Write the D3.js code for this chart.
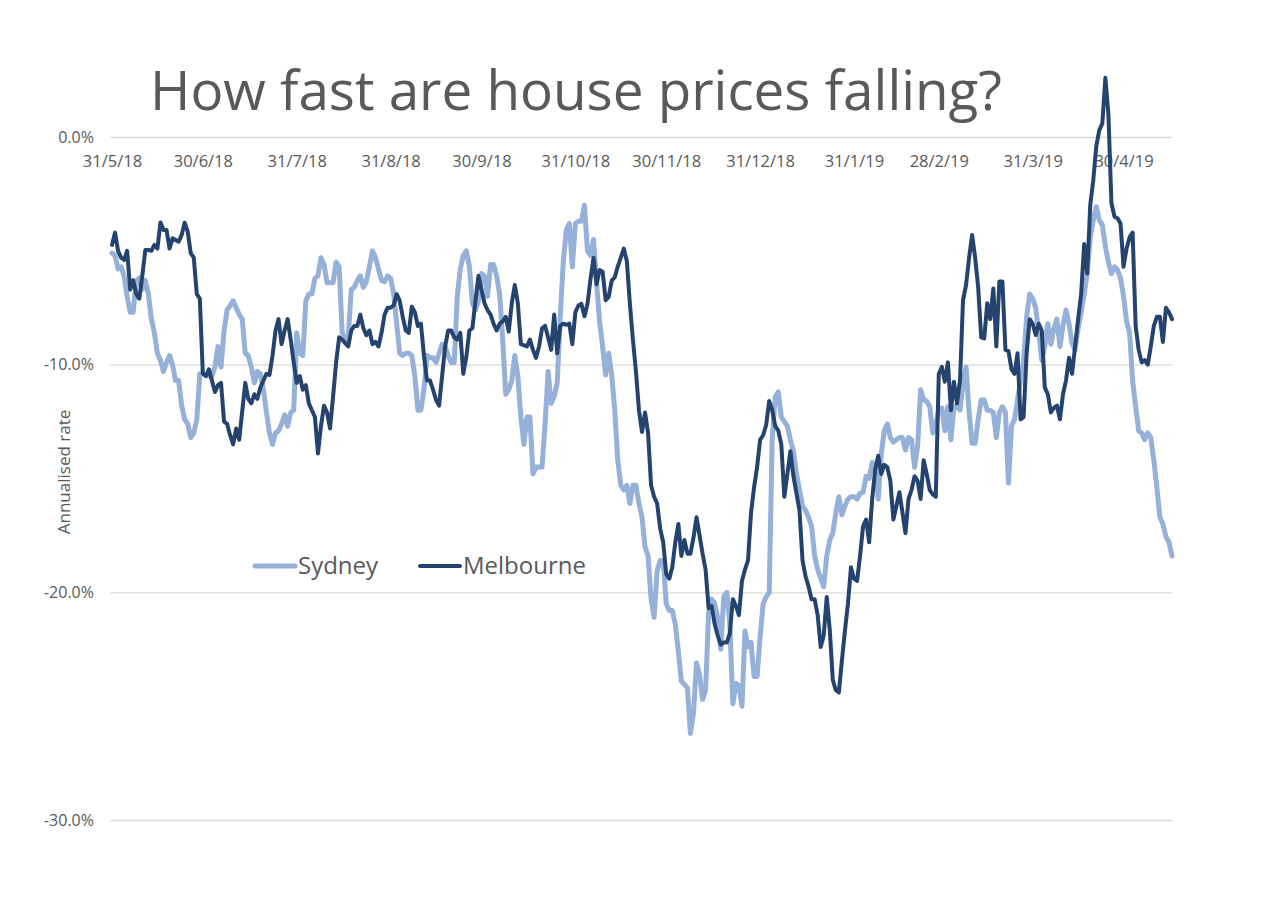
<!DOCTYPE html>
<html><head><meta charset="utf-8">
<script src="https://cdn.jsdelivr.net/npm/d3@7"></script>
<style>
html,body{margin:0;padding:0;background:#fff;}
svg{display:block;}
text{font-family:"Open Sans",sans-serif;}
</style></head><body>
<svg id="chart" width="1280" height="903"></svg>
<script>
const chartTitle = "How fast are house prices falling?";
const yAxisTitle = "Annualised rate";
const startLabel = "31/5/18";
const lastDay = 350;
const xTickLabels = ["31/5/18","30/6/18","31/7/18","31/8/18","30/9/18","31/10/18","30/11/18","31/12/18","31/1/19","28/2/19","31/3/19","30/4/19"];
const yTickValues = [0, -10, -20, -30];
const seriesNames = ["Sydney", "Melbourne"];
const seriesColors = ["#95b0d9", "#24436f"];

// [days since 31/5/18, annualised % change]
const sydney = [[0,-5.1],[1,-5.2],[2,-5.8],[3,-5.7],[4,-6.1],[5,-7.0],[6,-7.7],[7,-7.7],[8,-6.3],[9,-6.2],[10,-6.7],[11,-6.3],[12,-6.9],[13,-8.0],[14,-8.6],[15,-9.5],[16,-9.8],[17,-10.3],[18,-9.9],[19,-9.6],[20,-10.0],[21,-10.7],[22,-10.7],[23,-11.8],[24,-12.4],[25,-12.6],[26,-13.2],[27,-13.0],[28,-12.4],[29,-10.4],[30,-10.4],[32,-10.5],[33,-10.5],[34,-10.1],[35,-9.2],[36,-10.1],[37,-8.5],[38,-7.6],[40,-7.2],[41,-7.5],[42,-7.8],[43,-8.0],[44,-9.5],[45,-9.6],[46,-10.1],[47,-10.8],[48,-10.3],[49,-10.4],[50,-11.1],[51,-12.1],[52,-13.0],[53,-13.5],[54,-13.0],[55,-12.9],[56,-12.6],[57,-12.2],[58,-12.7],[59,-12.1],[60,-12.0],[61,-8.6],[62,-9.5],[63,-9.6],[64,-7.2],[65,-6.9],[66,-6.9],[67,-6.2],[68,-6.1],[69,-5.3],[70,-5.6],[71,-6.4],[72,-6.4],[73,-6.4],[74,-5.5],[75,-5.7],[76,-8.6],[77,-8.9],[78,-8.8],[79,-6.7],[80,-6.6],[81,-6.3],[82,-6.1],[83,-6.6],[84,-6.35],[85,-5.7],[86,-5.0],[87,-5.3],[88,-5.8],[89,-6.3],[90,-6.35],[91,-6.1],[92,-6.2],[93,-6.9],[94,-8.2],[95,-9.5],[96,-9.6],[97,-9.5],[98,-9.5],[99,-9.6],[100,-10.5],[101,-12.0],[102,-12.0],[103,-11.1],[104,-9.6],[105,-9.7],[106,-9.7],[107,-9.9],[108,-9.5],[109,-9.1],[110,-9.2],[111,-9.6],[112,-9.9],[113,-9.9],[114,-7.0],[115,-5.8],[116,-5.2],[117,-5.0],[118,-5.7],[119,-7.3],[120,-7.6],[121,-7.2],[122,-6.0],[123,-6.1],[124,-7.0],[125,-5.6],[126,-5.6],[127,-6.1],[128,-6.9],[129,-8.9],[130,-11.3],[131,-11.1],[132,-10.7],[133,-9.6],[134,-10.5],[135,-12.3],[136,-13.5],[137,-12.3],[138,-12.3],[139,-14.8],[140,-14.5],[142,-14.5],[143,-12.6],[144,-10.3],[145,-11.7],[146,-11.4],[147,-10.8],[148,-7.9],[149,-5.5],[150,-4.1],[151,-3.8],[152,-5.7],[153,-3.8],[154,-3.7],[155,-3.7],[156,-3.0],[157,-5.0],[158,-5.2],[159,-4.5],[160,-6.4],[161,-8.1],[162,-9.2],[163,-10.45],[164,-9.5],[165,-10.45],[166,-12.0],[167,-14.2],[168,-15.3],[169,-15.5],[170,-15.3],[171,-16.1],[172,-15.3],[173,-15.3],[174,-16.1],[175,-16.7],[176,-18.0],[177,-18.4],[178,-20.3],[179,-21.1],[180,-19.05],[181,-18.6],[182,-18.6],[183,-20.5],[184,-20.8],[185,-20.8],[186,-21.4],[187,-22.6],[188,-23.9],[190,-24.2],[191,-26.2],[192,-25.3],[193,-23.1],[194,-23.6],[195,-24.7],[196,-24.3],[197,-20.9],[198,-20.3],[199,-20.5],[200,-21.1],[201,-22.5],[202,-20.2],[203,-20.0],[204,-21.4],[205,-24.9],[206,-24.0],[207,-24.1],[208,-25.0],[209,-21.7],[210,-22.4],[211,-22.2],[212,-23.7],[213,-23.7],[214,-21.95],[215,-20.5],[216,-20.2],[217,-20.0],[218,-13.2],[219,-11.4],[220,-11.2],[221,-12.3],[223,-12.7],[224,-13.3],[225,-13.8],[226,-14.8],[227,-15.5],[228,-16.2],[229,-16.4],[230,-16.7],[231,-17.1],[232,-18.4],[233,-19.0],[235,-19.75],[236,-18.4],[237,-17.7],[238,-17.4],[239,-16.5],[240,-15.8],[241,-16.6],[242,-16.2],[243,-15.9],[244,-15.8],[245,-15.8],[246,-15.9],[247,-15.65],[248,-15.6],[249,-14.9],[250,-15.0],[251,-14.3],[252,-14.5],[253,-15.9],[254,-13.9],[255,-12.9],[256,-12.6],[257,-13.2],[258,-13.4],[259,-13.3],[260,-13.2],[261,-13.2],[262,-13.75],[263,-13.2],[264,-13.3],[265,-14.5],[266,-13.6],[267,-11.1],[268,-11.55],[269,-11.6],[270,-11.85],[271,-13.0],[272,-12.6],[273,-12.0],[274,-11.9],[275,-12.9],[276,-11.85],[277,-13.3],[278,-11.85],[279,-11.85],[280,-12.0],[281,-10.8],[282,-10.1],[283,-12.1],[284,-13.45],[285,-13.45],[286,-12.4],[287,-11.55],[288,-11.55],[289,-12.0],[290,-12.0],[291,-12.1],[292,-13.2],[293,-12.1],[294,-11.85],[295,-12.1],[296,-15.2],[297,-12.7],[298,-12.4],[299,-11.55],[300,-10.7],[301,-9.8],[302,-7.9],[303,-6.9],[304,-7.1],[305,-7.5],[306,-8.6],[307,-9.8],[308,-9.2],[309,-8.2],[310,-9.1],[311,-8.4],[312,-8.0],[313,-9.2],[314,-8.3],[315,-7.6],[316,-8.2],[317,-9.06],[318,-9.35],[319,-8.4],[320,-7.7],[321,-6.9],[322,-6.0],[323,-4.4],[324,-3.65],[325,-3.06],[326,-3.65],[327,-3.86],[328,-4.8],[329,-5.5],[330,-6.0],[331,-5.7],[332,-5.84],[333,-6.2],[334,-7.0],[335,-8.1],[336,-8.6],[337,-10.7],[338,-11.85],[339,-12.9],[340,-13.0],[341,-13.3],[342,-13.0],[343,-13.2],[344,-14.2],[345,-15.4],[346,-16.7],[347,-17.0],[348,-17.55],[349,-17.8],[350,-18.4]];

const melbourne = [[0,-4.74],[1,-4.2],[2,-5.0],[3,-5.3],[4,-5.4],[5,-5.0],[6,-6.7],[7,-6.3],[8,-6.9],[9,-7.1],[10,-6.1],[11,-4.96],[12,-4.96],[13,-5.0],[14,-4.74],[15,-4.9],[16,-3.76],[17,-4.08],[18,-4.08],[19,-4.9],[20,-4.45],[22,-4.6],[23,-4.3],[24,-3.76],[25,-4.16],[26,-5.1],[27,-5.3],[28,-6.9],[29,-7.1],[30,-10.4],[31,-10.5],[32,-10.2],[34,-11.2],[35,-10.9],[36,-10.8],[37,-12.5],[38,-12.6],[39,-13.1],[40,-13.5],[41,-12.8],[42,-13.3],[44,-10.8],[45,-11.5],[46,-11.7],[47,-11.3],[48,-11.5],[49,-11.0],[51,-10.4],[52,-10.45],[53,-9.6],[54,-8.5],[55,-8.0],[56,-9.1],[57,-8.5],[58,-8.0],[59,-8.9],[60,-9.9],[61,-10.8],[62,-10.5],[63,-11.1],[64,-10.9],[65,-11.7],[66,-12.0],[67,-12.3],[68,-13.9],[69,-12.7],[70,-11.8],[71,-12.1],[72,-12.8],[73,-11.4],[74,-9.9],[75,-8.8],[76,-8.9],[78,-9.2],[79,-8.5],[80,-8.3],[81,-8.3],[82,-7.8],[83,-8.4],[84,-8.7],[85,-8.5],[86,-9.1],[87,-9.0],[88,-9.2],[89,-8.6],[90,-7.8],[91,-7.5],[92,-7.5],[93,-7.4],[94,-6.9],[95,-7.2],[96,-7.9],[97,-8.5],[98,-8.6],[99,-7.45],[100,-7.7],[101,-8.3],[102,-8.2],[103,-9.6],[104,-10.7],[105,-10.7],[106,-11.1],[107,-11.55],[108,-11.8],[109,-10.5],[110,-9.2],[111,-8.5],[112,-8.5],[113,-8.8],[114,-8.9],[115,-8.6],[116,-10.4],[117,-9.65],[118,-8.5],[119,-8.4],[120,-7.2],[121,-6.1],[122,-6.7],[123,-7.3],[124,-7.6],[125,-7.8],[126,-8.2],[127,-8.5],[128,-8.2],[129,-8.1],[130,-7.9],[131,-8.55],[132,-7.3],[133,-6.5],[134,-7.3],[135,-9.1],[137,-9.2],[138,-8.9],[139,-9.35],[140,-9.7],[141,-9.2],[142,-8.4],[143,-8.3],[144,-8.8],[145,-9.35],[146,-7.8],[147,-9.5],[148,-8.3],[149,-8.2],[150,-8.25],[151,-8.2],[152,-9.1],[153,-7.7],[154,-7.4],[155,-7.33],[156,-7.87],[157,-7.33],[158,-6.24],[159,-5.3],[160,-6.47],[161,-5.84],[162,-5.92],[163,-7.17],[164,-7.02],[165,-6.31],[166,-6.16],[167,-5.69],[168,-5.3],[169,-4.9],[170,-5.45],[171,-7.33],[172,-8.9],[173,-10.3],[174,-12.0],[175,-12.96],[176,-12.1],[177,-13.0],[178,-15.3],[179,-15.8],[180,-16.1],[181,-17.2],[182,-17.8],[183,-19.2],[184,-19.4],[185,-18.9],[186,-17.8],[187,-17.0],[188,-18.4],[189,-17.7],[190,-18.3],[191,-18.3],[192,-17.6],[193,-16.7],[194,-17.5],[195,-18.3],[196,-19.0],[197,-20.7],[198,-20.6],[199,-21.4],[200,-21.9],[201,-22.3],[202,-22.2],[203,-22.2],[204,-21.8],[205,-20.3],[206,-20.6],[207,-21.0],[208,-19.5],[209,-19.0],[210,-18.6],[211,-16.5],[212,-15.4],[213,-14.5],[214,-13.3],[215,-13.1],[216,-12.65],[217,-11.6],[218,-12.0],[219,-12.7],[220,-12.9],[221,-13.5],[222,-15.8],[223,-14.8],[224,-13.8],[225,-14.9],[226,-15.65],[227,-16.4],[228,-18.6],[229,-19.3],[230,-19.75],[231,-20.3],[232,-20.3],[233,-21.0],[234,-22.4],[235,-21.9],[236,-20.2],[237,-21.65],[238,-23.85],[239,-24.3],[240,-24.4],[241,-23.0],[242,-21.7],[243,-20.5],[244,-18.9],[245,-19.4],[246,-19.5],[247,-18.4],[248,-17.1],[249,-16.8],[250,-17.8],[251,-15.9],[252,-14.6],[253,-14.0],[254,-14.8],[255,-14.4],[256,-14.5],[257,-15.1],[258,-16.8],[259,-16.2],[260,-15.6],[261,-16.5],[262,-17.4],[263,-15.9],[264,-15.5],[265,-14.9],[266,-15.1],[267,-15.9],[268,-14.2],[269,-14.8],[270,-15.5],[271,-15.7],[272,-15.8],[273,-10.4],[274,-10.1],[275,-10.75],[276,-9.9],[277,-12.0],[278,-10.75],[279,-11.7],[280,-10.7],[281,-7.16],[282,-6.5],[283,-5.3],[284,-4.3],[285,-5.3],[286,-6.6],[287,-8.8],[288,-8.85],[289,-7.3],[290,-8.0],[291,-6.65],[292,-9.2],[293,-6.35],[294,-6.35],[295,-9.35],[296,-9.4],[297,-10.2],[298,-10.4],[299,-9.5],[300,-12.4],[301,-12.3],[302,-9.5],[303,-8.0],[304,-8.2],[305,-8.7],[306,-8.2],[307,-8.5],[308,-11.0],[309,-11.3],[310,-12.1],[311,-11.9],[312,-11.8],[313,-12.4],[314,-11.3],[315,-10.7],[316,-9.7],[317,-10.4],[318,-9.2],[319,-8.0],[320,-6.9],[321,-4.7],[322,-6.0],[323,-3.0],[324,-1.9],[325,-0.4],[326,0.3],[327,0.6],[328,2.6],[329,1.0],[330,-2.9],[331,-3.5],[332,-3.57],[333,-3.8],[334,-5.7],[335,-4.9],[336,-4.4],[337,-4.2],[338,-8.3],[339,-9.35],[340,-9.9],[341,-9.8],[342,-10.0],[343,-9.2],[344,-8.3],[345,-7.9],[346,-7.9],[347,-9.0],[348,-7.5],[349,-7.7],[350,-8.0]];

const parseDate = d3.timeParse("%d/%m/%y");
const start = parseDate(startLabel);
const dayToDate = d => d3.timeDay.offset(start, d);
const fmtDate = d => `${d.getDate()}/${d.getMonth() + 1}/${d.getFullYear() % 100}`;

const svg = d3.select("#chart");
const gridLeft = 110, gridRight = 1172;

const x = d3.scaleTime().domain([start, dayToDate(lastDay)]).range([112, 1172]);
const y = d3.scaleLinear().domain([-30, 0]).range([820, 137]);

// Y axis with gridlines
svg.append("g")
  .attr("transform", `translate(${gridLeft},0)`)
  .call(d3.axisLeft(y).tickValues(yTickValues).tickSize(-(gridRight - gridLeft)).tickPadding(16)
        .tickFormat(v => v.toFixed(1) + "%"))
  .call(g => g.select(".domain").remove())
  .call(g => g.selectAll(".tick line").attr("stroke", "#d9d9d9").attr("stroke-width", 1.3))
  .call(g => g.selectAll(".tick text").attr("fill", "#595959").attr("font-size", 16)
        .attr("font-family", "Open Sans"));

// X axis labels (placed just under the 0% line)
svg.append("g")
  .attr("transform", `translate(0,${y(0)})`)
  .call(d3.axisBottom(x).tickValues(xTickLabels.map(parseDate)).tickSize(0).tickPadding(18)
        .tickFormat(fmtDate))
  .call(g => g.select(".domain").remove())
  .call(g => g.selectAll(".tick text").attr("fill", "#595959").attr("font-size", 16.5)
        .attr("font-family", "Open Sans"));

// Lines
const line = d3.line().x(d => x(dayToDate(d[0]))).y(d => y(d[1]));
const widths = [5, 4];
[sydney, melbourne].forEach((data, i) => {
  svg.append("path")
    .datum(data)
    .attr("d", line)
    .attr("fill", "none")
    .attr("stroke", seriesColors[i])
    .attr("stroke-width", widths[i])
    .attr("stroke-linejoin", "round")
    .attr("stroke-linecap", "round");
});

// Title
svg.append("text")
  .attr("x", 150).attr("y", 110)
  .attr("font-size", 54)
  .attr("fill", "#595959")
  .attr("textLength", 852)
  .attr("lengthAdjust", "spacingAndGlyphs")
  .text(chartTitle);

// Y axis title
svg.append("text")
  .attr("transform", "translate(64,472) rotate(-90)")
  .attr("text-anchor", "middle")
  .attr("dy", "0.35em")
  .attr("font-size", 17)
  .attr("fill", "#595959")
  .text(yAxisTitle);

// Legend
const legendX = [255, 420];
seriesNames.forEach((name, i) => {
  const g = svg.append("g").attr("transform", `translate(${legendX[i]},566)`);
  g.append("line").attr("x1", 0).attr("x2", 40).attr("y1", 0).attr("y2", 0)
    .attr("stroke", seriesColors[i]).attr("stroke-width", widths[i]).attr("stroke-linecap", "round");
  g.append("text").attr("x", 43).attr("dy", "0.35em")
    .attr("font-size", 24).attr("fill", "#595959").text(name);
});
</script>
</body></html>
